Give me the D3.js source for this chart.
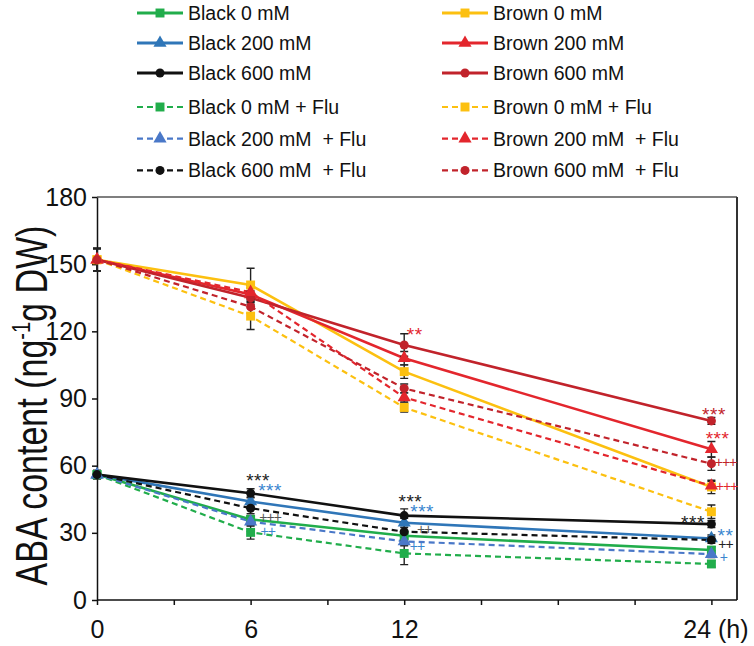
<!DOCTYPE html>
<html><head><meta charset="utf-8">
<script src="https://cdn.jsdelivr.net/npm/d3@7"></script>
<style>
body{margin:0;background:#fff}
svg{display:block;font-family:"Liberation Sans",Arial,Helvetica,sans-serif}
text{white-space:pre}
</style>
</head><body>
<svg id="c" width="754" height="646"></svg>
<script>
// ---------------- data ----------------
const times = [0, 6, 12, 24];
const xTicks = [0, 3, 6, 9, 12, 15, 18, 21, 24];
const xTickLabels = ["0", "", "6", "", "12", "", "", "", "24 (h)"];
const yTicks = [0, 30, 60, 90, 120, 150, 180];
const yTitle = "ABA content (ng";
const yTitleSup = "-1";
const yTitleEnd = "g DW)";

const seriesNames = [
  "Black 0 mM", "Black 200 mM", "Black 600 mM",
  "Black 0 mM + Flu", "Black 200 mM  + Flu", "Black 600 mM  + Flu",
  "Brown 0 mM", "Brown 200 mM", "Brown 600 mM",
  "Brown 0 mM + Flu", "Brown 200 mM  + Flu", "Brown 600 mM  + Flu"
];
const black0      = [56, 36.0, 28.7, 22.3];
const black200    = [56, 44.0, 34.5, 27.5];
const black600    = [56, 47.7, 37.7, 33.9];
const black0Flu   = [56, 30.2, 20.8, 16.1];
const black200Flu = [56, 35.0, 26.2, 20.5];
const black600Flu = [56, 41.0, 30.5, 26.8];
const brown0      = [152, 140.7, 102.0, 50.5];
const brown200    = [152, 136.5, 108.0, 67.3];
const brown600    = [152, 135.0, 113.9, 80.0];
const brown0Flu   = [152, 126.8, 86.0, 39.4];
const brown200Flu = [152, 137.5, 90.5, 51.0];
const brown600Flu = [152, 131.0, 94.5, 60.9];

const black0Err      = [1.5, 1.5, 2, 1.5];
const black200Err    = [1.5, 2, 2, 1.5];
const black600Err    = [2, 2, 3, 1.5];
const black0FluErr   = [1.5, 3, 5, 1.5];
const black200FluErr = [1.5, 2, 2, 1.5];
const black600FluErr = [1.5, 2.5, 3, 1.5];
const brown0Err      = [5, 7.5, 3, 3];
const brown200Err    = [5, 3, 3, 3.5];
const brown600Err    = [5, 3, 5, 1.5];
const brown0FluErr   = [5, 6, 2, 3];
const brown200FluErr = [5, 3, 2, 2];
const brown600FluErr = [5, 3, 2, 3];

// significance marks: label, time, value (baseline), colour key
const annoLabels = ["***", "***", "+++", "++", "***", "***", "++", "++", "**", "***", "***", "+++", "+++", "***", "**", "++", "+"];
const annoTimes  = [6.29, 6.76, 6.76, 6.67, 12.24, 12.7, 12.78, 12.5, 12.41, 24.1, 24.24, 24.55, 24.59, 23.28, 24.55, 24.55, 24.47];
const annoValues = [50.5, 46.0, 35.0, 28.6, 41.2, 36.5, 29.5, 21.9, 115.7, 80.0, 69.2, 59.4, 48.7, 31.7, 25.8, 22.6, 17.0];
const annoKinds  = ["black", "blue", "gray", "blue", "black", "blue", "gray", "blue", "red", "darkred", "red", "darkred", "red", "black", "blue", "black", "blue"];

// ---------------- styles ----------------
const colors = {
  green: "#21ad4b", blue: "#2f76b8", blueD: "#4a78c8", black: "#111111",
  yellow: "#fcc010", red: "#e3262d", darkred: "#c1232b", gray: "#555555"
};
const annoColors = {black: "#222", blue: "#3a86cf", gray: "#555", red: "#e3262d", darkred: "#c1232b"};
const values = [black0, black200, black600, black0Flu, black200Flu, black600Flu,
                brown0, brown200, brown600, brown0Flu, brown200Flu, brown600Flu];
const errs = [black0Err, black200Err, black600Err, black0FluErr, black200FluErr, black600FluErr,
              brown0Err, brown200Err, brown600Err, brown0FluErr, brown200FluErr, brown600FluErr];
const styles = [
  {c: colors.green, dash: null, sym: "sq"},
  {c: colors.blue, dash: null, sym: "tri"},
  {c: colors.black, dash: null, sym: "cir"},
  {c: colors.green, dash: "6,4", sym: "sq"},
  {c: colors.blueD, dash: "6,4", sym: "tri"},
  {c: colors.black, dash: "6,4", sym: "cir"},
  {c: colors.yellow, dash: null, sym: "sq"},
  {c: colors.red, dash: null, sym: "tri"},
  {c: colors.darkred, dash: null, sym: "cir"},
  {c: colors.yellow, dash: "6,4", sym: "sq"},
  {c: colors.red, dash: "6,4", sym: "tri"},
  {c: colors.darkred, dash: "6,4", sym: "cir"}
];
const symType = {sq: d3.symbolSquare, tri: d3.symbolTriangle, cir: d3.symbolCircle};
const symSize = {sq: 80, tri: 75, cir: 64};

// ---------------- chart ----------------
const svg = d3.select("#c");
const x = d3.scaleLinear().domain([0, 25]).range([97, 737]);
const y = d3.scaleLinear().domain([0, 180]).range([600, 197]);

// frame (top/right)
svg.append("path")
  .attr("d", `M${x(0)},${y(180)}H${x(25)}`)
  .attr("fill", "none").attr("stroke", "#555").attr("stroke-width", 1.4);
svg.append("path")
  .attr("d", `M${x(25)},${y(180)}V${y(0)}`)
  .attr("fill", "none").attr("stroke", "#333").attr("stroke-width", 2);

// axes
const gy = svg.append("g").attr("transform", `translate(${x(0)},0)`)
  .call(d3.axisLeft(y).tickValues(yTicks).tickSize(5).tickPadding(5).tickSizeOuter(0));
gy.selectAll("text").attr("font-size", 25).attr("fill", "#111").attr("font-family", "Liberation Sans, Arial, sans-serif");
gy.selectAll("line,path").attr("stroke", "#111").attr("stroke-width", 1.5);

const gx = svg.append("g").attr("transform", `translate(0,${y(0)})`)
  .call(d3.axisBottom(x).tickValues(xTicks).tickSize(5).tickPadding(15).tickSizeOuter(0)
    .tickFormat((d, i) => xTickLabels[i]));
gx.select(".domain").attr("d", `M${x(0)},0H${x(25)}`);
gx.selectAll("text").attr("font-size", 25).attr("fill", "#111").attr("font-family", "Liberation Sans, Arial, sans-serif");
gx.selectAll("text").filter((d) => d === 24).attr("dx", 4);
gx.selectAll("line,path").attr("stroke", "#111").attr("stroke-width", 1.5);

// y title
const yt = svg.append("text")
  .attr("transform", `translate(47,${(y(0) + y(180)) / 2 + 7}) scale(1.3,1) rotate(-90)`)
  .attr("text-anchor", "middle").attr("font-size", 34).attr("fill", "#111");
yt.append("tspan").text(yTitle);
yt.append("tspan").text(yTitleSup).attr("font-size", 20).attr("dy", -13);
yt.append("tspan").text(yTitleEnd).attr("dy", 13);

// lines
const line = d3.line().x((d, i) => x(times[i])).y(d => y(d));
const gLines = svg.append("g");
values.forEach((v, k) => {
  gLines.append("path").datum(v).attr("d", line)
    .attr("fill", "none").attr("stroke", styles[k].c)
    .attr("stroke-width", styles[k].dash ? 2.2 : 2.6)
    .attr("stroke-dasharray", styles[k].dash);
});

// error bars
const gErr = svg.append("g").attr("stroke", "#222").attr("stroke-width", 1.4);
values.forEach((v, k) => {
  v.forEach((d, i) => {
    const e = errs[k][i], cx = x(times[i]);
    gErr.append("path")
      .attr("d", `M${cx},${y(d - e)}V${y(d + e)}M${cx - 4},${y(d - e)}H${cx + 4}M${cx - 4},${y(d + e)}H${cx + 4}`)
      .attr("fill", "none");
  });
});

// markers
const gMk = svg.append("g");
values.forEach((v, k) => {
  const s = styles[k];
  gMk.selectAll(null).data(v).enter().append("path")
    .attr("d", d3.symbol().type(symType[s.sym]).size(symSize[s.sym]))
    .attr("transform", (d, i) => `translate(${x(times[i])},${y(d)})`)
    .attr("fill", s.c);
});

// annotations
const gA = svg.append("g").attr("text-anchor", "middle");
annoLabels.forEach((t, i) => {
  const star = t.indexOf("*") >= 0;
  gA.append("text").text(t)
    .attr("x", x(annoTimes[i])).attr("y", y(annoValues[i]))
    .attr("font-size", star ? 19 : 14)
    .attr("letter-spacing", star ? 0.5 : -1)
    .attr("fill", annoColors[annoKinds[i]]);
});

// legend
const gL = svg.append("g");
seriesNames.forEach((name, k) => {
  const col = k < 6 ? 0 : 1, row = k % 6;
  const lx = col === 0 ? 137 : 442;
  const ly = row < 3 ? 13 + row * 30 : 107 + (row - 3) * 31.7;
  const s = styles[k];
  gL.append("line").attr("x1", lx).attr("x2", lx + 46).attr("y1", ly).attr("y2", ly)
    .attr("stroke", s.c).attr("stroke-width", s.dash ? 2.2 : 2.8).attr("stroke-dasharray", s.dash ? "6,4" : null);
  gL.append("path").attr("d", d3.symbol().type(symType[s.sym]).size(symSize[s.sym]))
    .attr("transform", `translate(${lx + 23},${ly})`).attr("fill", s.c);
  gL.append("text").text(name).attr("x", lx + 51).attr("y", ly).attr("dy", "0.36em")
    .attr("font-size", 19.5).attr("fill", "#111");
});
</script>
</body></html>
